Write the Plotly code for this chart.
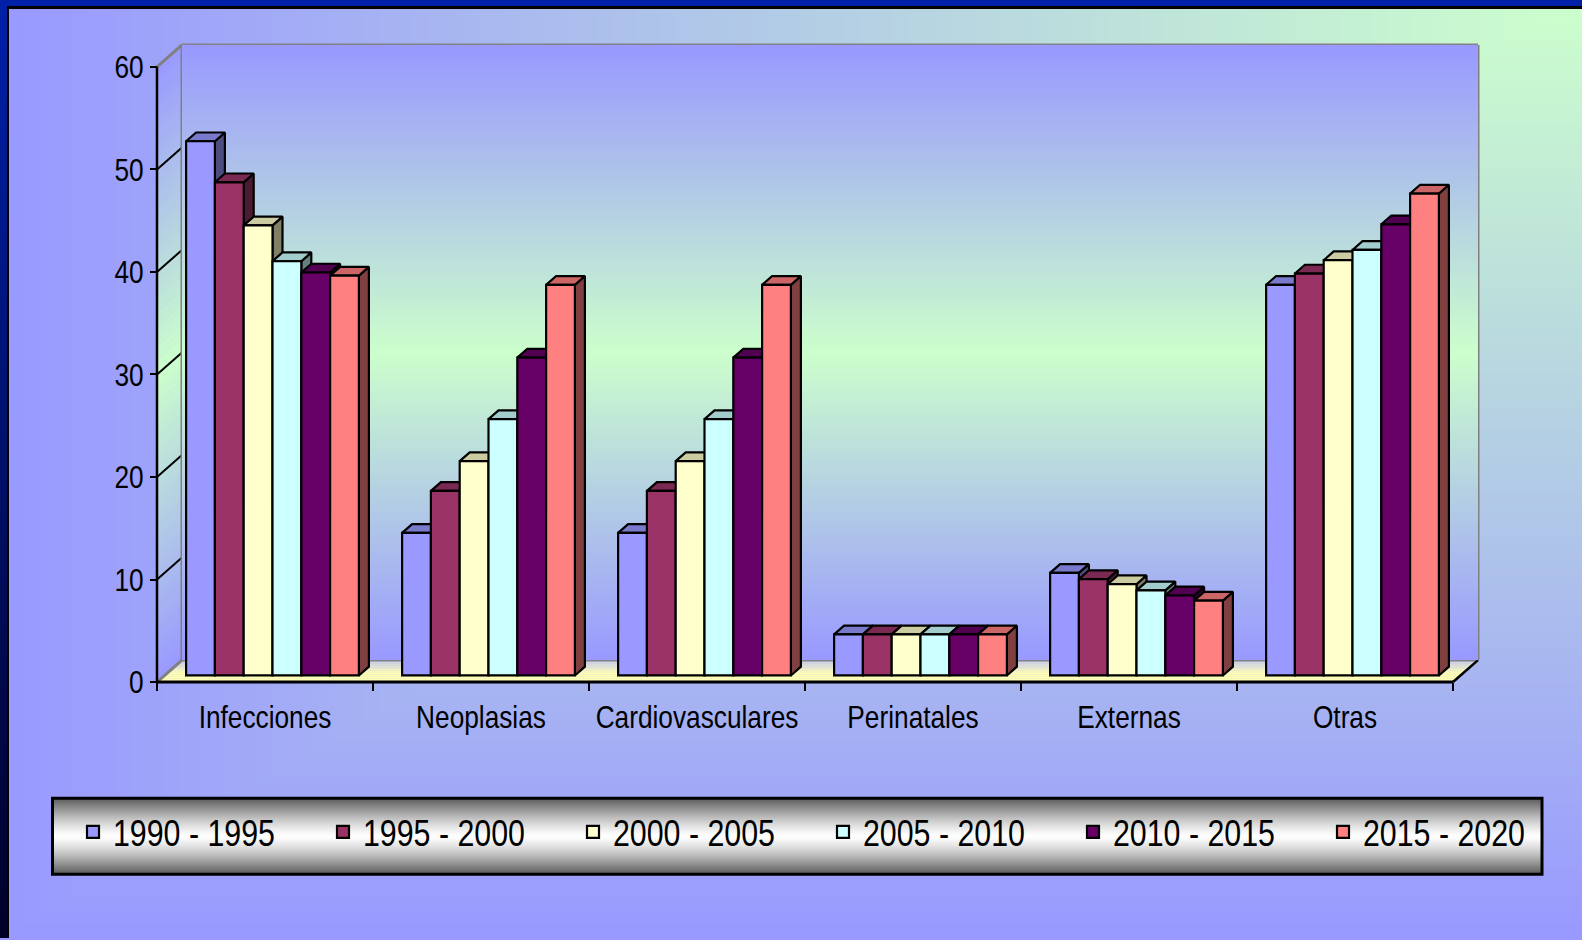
import base64
import struct
import zlib

import numpy as np
import plotly.graph_objects as go

# ---------------------------------------------------------------- data
categories = ["Infecciones", "Neoplasias", "Cardiovasculares", "Perinatales", "Externas", "Otras"]
periods = ["1990 - 1995", "1995 - 2000", "2000 - 2005", "2005 - 2010", "2010 - 2015", "2015 - 2020"]

v_1990_1995 = [52.1, 13.9, 13.9, 4.0, 10.0, 38.1]
v_1995_2000 = [48.1, 18.0, 18.0, 4.0, 9.4, 39.2]
v_2000_2005 = [43.9, 20.9, 20.9, 4.0, 8.9, 40.5]
v_2005_2010 = [40.4, 25.0, 25.0, 4.0, 8.3, 41.5]
v_2010_2015 = [39.3, 31.0, 31.0, 4.0, 7.8, 44.0]
v_2015_2020 = [39.0, 38.1, 38.1, 4.0, 7.3, 47.0]
series_values = [v_1990_1995, v_1995_2000, v_2000_2005, v_2005_2010, v_2010_2015, v_2015_2020]

y_ticks = [0, 10, 20, 30, 40, 50, 60]

# ---------------------------------------------------------------- styles
front_colors = ["#9999FF", "#993366", "#FFFFCC", "#CCFFFF", "#660066", "#FF8080"]
top_colors = ["#7A7ACC", "#7A2952", "#CCCCA3", "#A3CCCC", "#520052", "#CC6666"]
side_colors = ["#4D4D80", "#4D1A33", "#808066", "#668080", "#330033", "#804040"]

# Arial-metric face, squeezed horizontally after drawing to a narrow cut
FONT = "Liberation Sans, Arial, sans-serif"
NARROW = 0.82
FIG_W, FIG_H = 1582, 940
LAV = np.array([0x99, 0x99, 0xFF], float)
GREEN = np.array([0xCC, 0xFF, 0xCC], float)

# front plane of the 3-D box in pixels, and the depth offset of the box
FRONT_LEFT, FRONT_RIGHT = 157, 1453
BASE_PX, TOP_PX = 683.5, 67
DEPTH_PX = (25, 22)
PX_CAT = (FRONT_RIGHT - FRONT_LEFT) / len(categories)
PX_UNIT = (BASE_PX - TOP_PX) / 60.0
DX = DEPTH_PX[0] / PX_CAT          # depth shift in category units
DY = DEPTH_PX[1] / PX_UNIT         # depth shift in value units
BAR_F0, BAR_F1 = 0.3, 0.7          # bar front / back position inside the depth
BAR_GAP = 0.2
N_SER = len(periods)
BAR_W = (1 - BAR_GAP) / N_SER

DOM_L, DOM_R, DOM_T, DOM_B = 135, 1495, 25, 700
x_range = [-0.5 - (FRONT_LEFT - DOM_L) / PX_CAT, -0.5 + (DOM_R - FRONT_LEFT) / PX_CAT]
y_range = [-(DOM_B - BASE_PX) / PX_UNIT, (BASE_PX - DOM_T) / PX_UNIT]
x_dom = [DOM_L / FIG_W, DOM_R / FIG_W]
y_dom = [1 - DOM_B / FIG_H, 1 - DOM_T / FIG_H]


def png_uri(arr):
    arr = np.clip(np.rint(arr), 0, 255).astype(np.uint8)
    h, w, _ = arr.shape
    raw = np.hstack([np.zeros((h, 1), np.uint8), arr.reshape(h, w * 3)]).tobytes()

    def chunk(tag, data):
        body = tag + data
        return struct.pack(">I", len(data)) + body + struct.pack(">I", zlib.crc32(body) & 0xFFFFFFFF)

    png = (b"\x89PNG\r\n\x1a\n"
           + chunk(b"IHDR", struct.pack(">IIBBBBB", w, h, 8, 2, 0, 0, 0))
           + chunk(b"IDAT", zlib.compress(raw, 9))
           + chunk(b"IEND", b""))
    return "data:image/png;base64," + base64.b64encode(png).decode()


def hexcol(c):
    c = np.clip(np.rint(c), 0, 255).astype(int)
    return "#%02X%02X%02X" % tuple(c)


# page background: gradient spreading from the top-right corner, framed top/left
xx = np.arange(FIG_W)[None, :]
yy = np.arange(FIG_H)[:, None]
t = np.maximum((FIG_W - 1 - xx) / (FIG_W - 1), yy / (FIG_H - 1))[..., None]
bg = GREEN * (1 - t) + LAV * t
bg[:6, :, :] = [0x00, 0x20, 0xA8]
bg[6:9, 7:, :] = 0
side_t = (np.arange(FIG_H) / (FIG_H - 1))[:, None]
bg[:, :7, :] = (np.array([0x00, 0x20, 0xA8]) * (1 - side_t) + np.array([0x00, 0x00, 0x28]) * side_t)[:, None, :]
bg[6:, 7:9, :] = 0
bg_uri = png_uri(bg)


def wall_color(u):
    # u = 0 at the bottom of the wall, 1 at the top
    s = 1 - abs(2 * u - 1)
    return LAV + (GREEN - LAV) * s


wall_px = np.array([wall_color(1 - (i + 0.5) / 256) for i in range(256)])
wall_uri = png_uri(np.repeat(wall_px[:, None, :], 4, axis=1))

leg_u = (np.arange(80) + 0.5) / 80
leg_g = 255 - 165 * np.abs(2 * leg_u - 1) ** 1.3
legend_uri = png_uri(np.repeat(np.stack([leg_g] * 3, axis=1)[:, None, :], 4, axis=1))

# ---------------------------------------------------------------- figure
fig = go.Figure()

# right-hand side faces, then top faces (drawn beneath the front faces)
for face in ("side", "top"):
    for j, vals in enumerate(series_values):
        xs, ys = [], []
        for i, v in enumerate(vals):
            left = i - (1 - BAR_GAP) / 2 + j * BAR_W
            right = left + BAR_W
            if face == "side":
                px = [right + BAR_F0 * DX, right + BAR_F0 * DX, right + BAR_F1 * DX, right + BAR_F1 * DX]
                py = [BAR_F0 * DY, v + BAR_F0 * DY, v + BAR_F1 * DY, BAR_F1 * DY]
            else:
                px = [left + BAR_F0 * DX, right + BAR_F0 * DX, right + BAR_F1 * DX, left + BAR_F1 * DX]
                py = [v + BAR_F0 * DY, v + BAR_F0 * DY, v + BAR_F1 * DY, v + BAR_F1 * DY]
            xs += px + [px[0], None]
            ys += py + [py[0], None]
        fig.add_trace(go.Scatter(
            x=xs, y=ys, mode="lines", fill="toself",
            fillcolor=(side_colors if face == "side" else top_colors)[j],
            line=dict(color="black", width=2.2),
            hoverinfo="skip", showlegend=False, xaxis="x", yaxis="y",
        ))

# front faces of the columns
for j, vals in enumerate(series_values):
    fig.add_trace(go.Bar(
        x=list(range(len(categories))), y=vals, name=periods[j],
        marker=dict(color=front_colors[j], line=dict(color="black", width=2.2)),
        xaxis="x2", yaxis="y2", hoverinfo="skip",
    ))

# ---------------------------------------------------------------- walls & floor
shapes = []
N_BANDS = 90
for k in range(N_BANDS):
    h0 = 60 * k / N_BANDS
    h1 = 60 * (k + 1) / N_BANDS + 0.05
    col = hexcol(wall_color((k + 0.5) / N_BANDS))
    shapes.append(dict(
        type="path", xref="x", yref="y", layer="below", line=dict(width=0), fillcolor=col,
        path=f"M{-0.5},{h0} L{-0.5 + DX},{h0 + DY} L{-0.5 + DX},{h1 + DY} L{-0.5},{h1} Z",
    ))

FLOOR_FRONT = np.array([0xFF, 0xFF, 0xB4], float)
FLOOR_BACK = np.array([0xC8, 0xCC, 0xEC], float)
N_FLOOR = 12
for k in range(N_FLOOR):
    f0, f1 = k / N_FLOOR, (k + 1) / N_FLOOR + 0.01
    m = (k + 0.5) / N_FLOOR
    w = min(1.0, max(0.0, (m - 0.35) / 0.65))
    col = hexcol(FLOOR_FRONT * (1 - w) + FLOOR_BACK * w)
    shapes.append(dict(
        type="path", xref="x", yref="y", layer="below", line=dict(width=0), fillcolor=col,
        path=(f"M{-0.5 + f0 * DX},{f0 * DY} L{5.5 + f0 * DX},{f0 * DY} "
              f"L{5.5 + f1 * DX},{f1 * DY} L{-0.5 + f1 * DX},{f1 * DY} Z"),
    ))


def seg(x0, y0, x1, y1, color, width):
    shapes.append(dict(type="line", xref="x", yref="y", layer="below",
                       x0=x0, y0=y0, x1=x1, y1=y1, line=dict(color=color, width=width)))


for v in y_ticks:
    edge = v in (0, 60)
    col = "#808080" if edge else "black"
    wid = 3 if edge else 2
    seg(-0.5 + DX, v + DY, 5.5 + DX, v + DY, col, wid)
    seg(-0.5, v, -0.5 + DX, v + DY, col, wid)
seg(-0.5 + DX, DY, -0.5 + DX, 60 + DY, "#808080", 3)
seg(5.5 + DX, DY, 5.5 + DX, 60 + DY, "#808080", 3)
# axis lines of the box
seg(-0.5, 0, -0.5, 60, "black", 2.5)
seg(-0.5, 0, 5.5, 0, "black", 3)
seg(5.5, 0, 5.5 + DX, DY, "black", 2.5)

# legend panel
LEG_L, LEG_R, LEG_T, LEG_B = 52.5, 1542, 800, 876
shapes.append(dict(type="rect", xref="paper", yref="paper", layer="above",
                   x0=LEG_L / FIG_W, x1=LEG_R / FIG_W, y0=1 - LEG_B / FIG_H, y1=1 - LEG_T / FIG_H,
                   line=dict(color="black", width=3), fillcolor="rgba(0,0,0,0)"))

images = [
    dict(source=bg_uri, xref="paper", yref="paper", x=0, y=1, sizex=1, sizey=1,
         xanchor="left", yanchor="top", sizing="stretch", layer="below"),
    dict(source=wall_uri, xref="x", yref="y", x=-0.5 + DX, y=60 + DY, sizex=6, sizey=60,
         xanchor="left", yanchor="top", sizing="stretch", layer="below"),
    dict(source=legend_uri, xref="paper", yref="paper", x=LEG_L / FIG_W, y=1 - LEG_T / FIG_H,
         sizex=(LEG_R - LEG_L) / FIG_W, sizey=(LEG_B - LEG_T) / FIG_H,
         xanchor="left", yanchor="top", sizing="stretch", layer="below"),
]

fig.update_layout(
    width=FIG_W, height=FIG_H,
    margin=dict(l=0, r=0, t=0, b=0),
    paper_bgcolor="#9999FF", plot_bgcolor="rgba(0,0,0,0)",
    barmode="group", bargap=BAR_GAP, bargroupgap=0,
    shapes=shapes, images=images,
    font=dict(family=FONT, color="black"),
    xaxis=dict(
        domain=x_dom, range=x_range, autorange=False, anchor="free",
        position=1 - BASE_PX / FIG_H,
        tickmode="array", tickvals=list(range(len(categories))), ticktext=categories,
        ticks="", showgrid=False, zeroline=False, showline=False,
        tickfont=dict(family=FONT, size=32, color="black"), ticklabelstandoff=13,
        minor=dict(tickmode="array", tickvals=[k - 0.5 for k in range(len(categories) + 1)],
                   ticks="outside", ticklen=8, tickwidth=2, tickcolor="black", showgrid=False),
        fixedrange=True,
    ),
    yaxis=dict(
        domain=y_dom, range=y_range, autorange=False, anchor="free",
        position=FRONT_LEFT / FIG_W,
        tickmode="array", tickvals=y_ticks, ticks="outside", ticklen=7, tickwidth=2,
        tickcolor="black", showgrid=False, zeroline=False, showline=False,
        tickfont=dict(family=FONT, size=32, color="black"),
        fixedrange=True,
    ),
    xaxis2=dict(overlaying="x", range=[r - BAR_F0 * DX for r in x_range], autorange=False,
                visible=False, anchor="y2", fixedrange=True),
    yaxis2=dict(overlaying="y", range=[r - BAR_F0 * DY for r in y_range], autorange=False,
                visible=False, anchor="x2", fixedrange=True),
    legend=dict(
        orientation="h", x=73 / FIG_W, xanchor="left", y=1 - 834 / FIG_H, yanchor="middle",
        bgcolor="rgba(0,0,0,0)", borderwidth=0, traceorder="normal",
        font=dict(family=FONT, size=37, color="black"),
        entrywidth=205, entrywidthmode="pixels",
    ),
    showlegend=True,
    hovermode=False,
)

# condense tick labels and legend entries to a narrow letterform
squeeze_js = """
var gd = document.getElementById('{plot_id}');
gd.querySelectorAll('.xtick text, .ytick text, .legendtext').forEach(function (t) {
    var len = t.getComputedTextLength();
    if (len > 0) {
        t.setAttribute('textLength', (len * %s).toFixed(2));
        t.setAttribute('lengthAdjust', 'spacingAndGlyphs');
    }
});
""" % NARROW

fig.write_html("out.html", config={"displayModeBar": False}, post_script=squeeze_js)
